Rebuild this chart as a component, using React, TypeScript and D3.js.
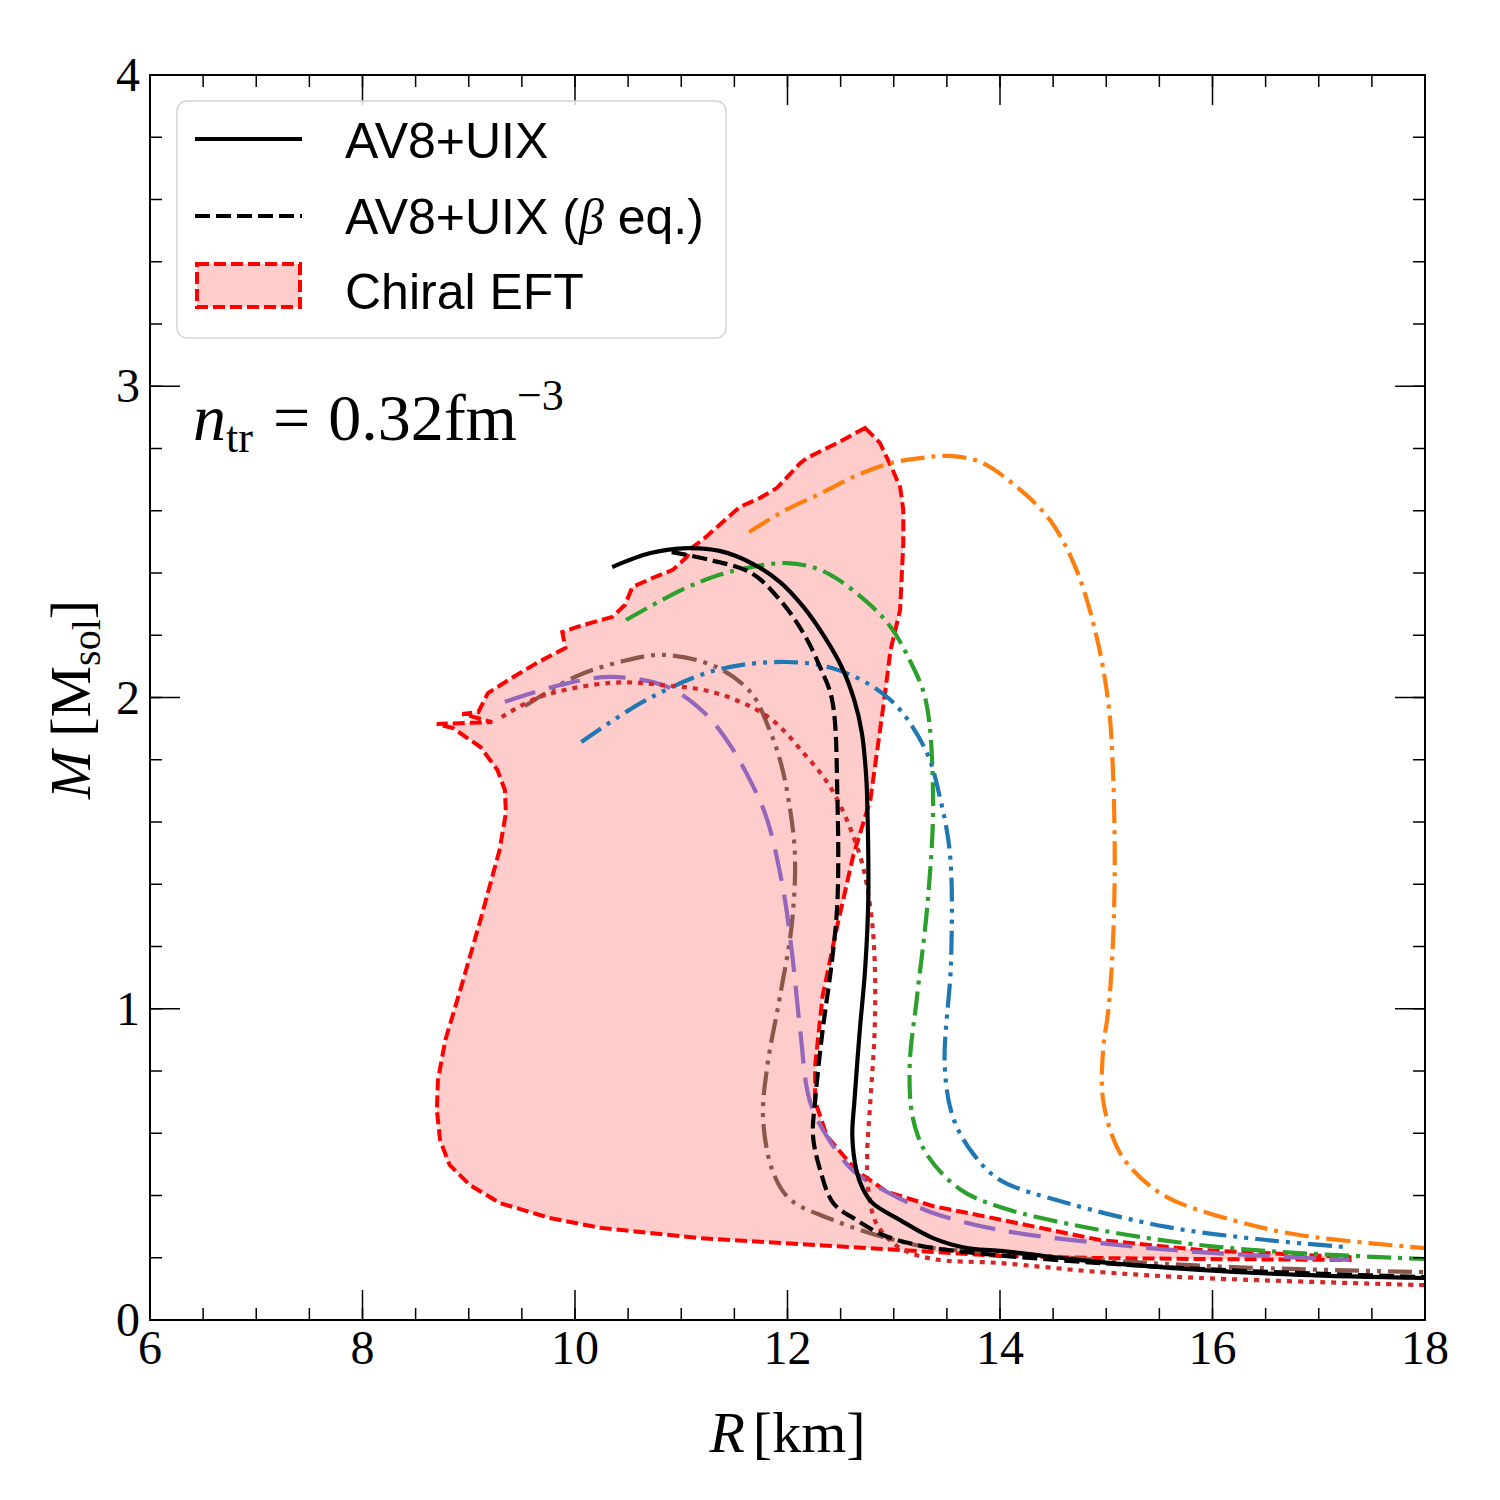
import * as d3 from 'd3';

// mass-radius curves, [R (km), M (Msol)]
const av8uix: [number, number][] = [
  [10.35, 2.419], [10.71, 2.464], [11.06, 2.48], [11.36, 2.471], [11.66, 2.432], [11.93, 2.371],
  [12.15, 2.291], [12.35, 2.194], [12.51, 2.098], [12.63, 1.99], [12.7, 1.886], [12.74, 1.75], [12.75, 1.671],
  [12.76, 1.346], [12.73, 1.124], [12.68, 0.929], [12.63, 0.704], [12.61, 0.591], [12.65, 0.479],
  [12.71, 0.421], [12.8, 0.376], [13.06, 0.321], [13.37, 0.263], [13.69, 0.231], [14.0, 0.222],
  [14.94, 0.186], [15.88, 0.161], [16.82, 0.145], [18.0, 0.135],
];

const av8uixBeta: [number, number][] = [
  [10.91, 2.467], [11.27, 2.442], [11.66, 2.4], [11.93, 2.313], [12.15, 2.207], [12.31, 2.095],
  [12.42, 1.992], [12.47, 1.671], [12.47, 1.346], [12.42, 1.157], [12.33, 0.929], [12.26, 0.704],
  [12.24, 0.591], [12.31, 0.479], [12.43, 0.376], [12.65, 0.321], [12.9, 0.273], [13.22, 0.241],
  [13.69, 0.218], [14.94, 0.183], [16.35, 0.157], [18.0, 0.138],
];

const orangeCurve: [number, number][] = [
  [11.64, 2.532], [11.98, 2.602], [12.32, 2.657], [12.64, 2.712], [12.97, 2.753], [13.25, 2.769],
  [13.5, 2.776], [13.81, 2.757], [14.16, 2.676], [14.47, 2.57], [14.72, 2.41], [14.91, 2.194],
  [15.02, 1.982], [15.06, 1.79], [15.08, 1.468], [15.06, 1.189], [15.02, 0.996], [14.97, 0.867],
  [14.97, 0.707], [15.1, 0.556], [15.25, 0.482], [15.57, 0.395], [16.19, 0.321], [16.82, 0.273],
  [18.0, 0.231],
];

const greenCurve: [number, number][] = [
  [10.48, 2.249], [11.0, 2.345], [11.36, 2.394], [11.66, 2.419], [11.99, 2.432], [12.26, 2.416],
  [12.48, 2.378], [12.78, 2.297], [12.97, 2.227], [13.15, 2.12], [13.3, 1.992], [13.37, 1.671],
  [13.32, 1.346], [13.22, 1.041], [13.15, 0.816], [13.18, 0.649], [13.31, 0.533], [13.62, 0.421],
  [14.0, 0.363], [14.94, 0.289], [15.88, 0.241], [16.82, 0.215], [18.0, 0.196],
];

const blueCurve: [number, number][] = [
  [10.06, 1.857], [10.67, 1.992], [11.33, 2.088], [11.99, 2.114], [12.48, 2.088], [12.97, 1.992],
  [13.3, 1.831], [13.44, 1.671], [13.53, 1.494], [13.54, 1.157], [13.48, 0.816], [13.56, 0.649],
  [13.75, 0.533], [14.0, 0.45], [14.63, 0.376], [15.57, 0.299], [16.51, 0.257], [17.23, 0.235],
];

const brownCurve: [number, number][] = [
  [9.53, 1.973], [10.0, 2.066], [10.42, 2.114], [10.83, 2.137], [11.33, 2.098], [11.66, 2.014],
  [11.82, 1.905], [11.93, 1.799], [12.01, 1.671], [12.07, 1.494], [12.04, 1.269], [11.93, 1.041],
  [11.81, 0.816], [11.77, 0.649], [11.86, 0.479], [12.02, 0.389], [12.43, 0.321], [12.9, 0.267],
  [13.37, 0.231], [14.0, 0.218], [14.94, 0.193], [16.19, 0.17], [18.0, 0.154],
];

const purpleCurve: [number, number][] = [
  [9.34, 1.986], [9.86, 2.04], [10.34, 2.066], [10.87, 2.034], [11.22, 1.95], [11.46, 1.847],
  [11.68, 1.712], [11.81, 1.606], [11.96, 1.382], [12.05, 1.157], [12.12, 0.929], [12.21, 0.704],
  [12.37, 0.591], [12.62, 0.479], [12.94, 0.411], [13.37, 0.344], [14.0, 0.289], [14.94, 0.247],
  [15.88, 0.218], [17.29, 0.193],
];

const redCurve: [number, number][] = [
  [9.31, 1.937], [9.67, 2.002], [10.34, 2.047], [10.83, 2.04], [11.33, 2.014], [11.82, 1.937],
  [12.15, 1.822], [12.42, 1.703], [12.68, 1.494], [12.78, 1.324], [12.82, 1.157], [12.82, 0.929],
  [12.78, 0.704], [12.75, 0.533], [12.76, 0.421], [12.84, 0.308], [13.06, 0.231], [13.37, 0.196],
  [14.0, 0.183], [14.94, 0.154], [15.88, 0.135], [18.0, 0.112],
];

// chiral EFT envelope, closed outline
const chiralBand: [number, number][] = [
  [12.73, 2.866], [12.87, 2.818], [12.99, 2.731], [13.06, 2.676], [13.09, 2.602], [13.09, 2.496],
  [13.06, 2.281], [12.97, 2.153], [12.91, 1.992], [12.78, 1.671], [12.62, 1.494], [12.47, 1.269],
  [12.33, 1.041], [12.26, 0.816], [12.26, 0.704], [12.37, 0.591], [12.65, 0.479], [12.94, 0.411],
  [13.37, 0.366], [13.88, 0.331], [14.94, 0.257], [15.88, 0.225], [17.29, 0.202], [17.29, 0.193],
  [15.88, 0.196], [14.94, 0.199], [14.0, 0.206], [13.06, 0.225], [12.12, 0.244], [11.18, 0.263],
  [10.24, 0.296], [9.76, 0.328], [9.29, 0.376], [9.01, 0.434], [8.82, 0.498], [8.73, 0.578],
  [8.7, 0.675], [8.71, 0.771], [8.78, 0.9], [8.92, 1.06], [9.11, 1.285], [9.29, 1.51],
  [9.35, 1.629], [9.34, 1.703], [9.27, 1.767], [9.11, 1.841], [8.85, 1.902], [8.7, 1.915],
  [9.22, 1.921], [8.94, 1.947], [9.09, 1.953], [9.18, 2.014], [9.42, 2.066], [9.64, 2.111],
  [9.91, 2.159], [9.88, 2.21], [10.02, 2.227], [10.35, 2.259], [10.47, 2.297], [10.54, 2.355],
  [10.73, 2.384], [10.92, 2.41], [11.05, 2.451], [11.11, 2.484], [11.2, 2.506], [11.55, 2.612],
  [11.74, 2.641], [11.9, 2.673], [12.12, 2.753], [12.18, 2.769], [12.47, 2.818],
];

const xTicks = [6, 8, 10, 12, 14, 16, 18];
const yTicks = [0, 1, 2, 3, 4];
const xMinor = d3.range(6, 18.001, 0.5);
const yMinor = d3.range(0, 4.001, 0.2);

const W = 1500;
const H = 1500;
const left = 150, right = 1425, top = 75, bottom = 1320;
const x = d3.scaleLinear().domain([6, 18]).range([left, right]);
const y = d3.scaleLinear().domain([0, 4]).range([bottom, top]);

const smooth = d3.line<[number, number]>().x(d => x(d[0])).y(d => y(d[1])).curve(d3.curveCatmullRom.alpha(0.5));
const straight = d3.line<[number, number]>().x(d => x(d[0])).y(d => y(d[1]));

const curves = [
  { data: orangeCurve, color: '#ff7f0e', dash: '24 7 4 7' },
  { data: greenCurve, color: '#2ca02c', dash: '24 7 4 7' },
  { data: blueCurve, color: '#1f77b4', dash: '24 7 4 7 4 7' },
  { data: brownCurve, color: '#8c564b', dash: '24 7 4 7 4 7' },
  { data: purpleCurve, color: '#9467bd', dash: '32 14' },
  { data: redCurve, color: '#d62728', dash: '5 6' },
  { data: av8uixBeta, color: '#000', dash: '15 6' },
  { data: av8uix, color: '#000', dash: undefined },
];

const serif = '"Liberation Serif", "DejaVu Serif", serif';
const sans = '"Liberation Sans", "DejaVu Sans", sans-serif';

export default function App() {
  return (
    <svg width={W} height={H} style={{ position: 'absolute', left: 0, top: 0, background: '#fff' }}>
      <defs>
        <clipPath id="plot">
          <rect x={left} y={top} width={right - left} height={bottom - top} />
        </clipPath>
      </defs>

      <g clipPath="url(#plot)">
        <path d={straight(chiralBand) + 'Z'} fill="#ffcccc" stroke="#ff0000" strokeWidth={4}
          strokeDasharray="12 5" strokeLinejoin="miter" />
        {curves.map((c, i) => (
          <path key={i} d={smooth(c.data) ?? ''} fill="none" stroke={c.color} strokeWidth={4.2}
            strokeDasharray={c.dash} />
        ))}
      </g>

      {/* ticks, inward on all sides */}
      <g stroke="#000" strokeWidth={1.5}>
        {xMinor.map(v => (
          <g key={'xm' + v}>
            <line x1={x(v)} x2={x(v)} y1={bottom} y2={bottom - 12} />
            <line x1={x(v)} x2={x(v)} y1={top} y2={top + 12} />
          </g>
        ))}
        {yMinor.map(v => (
          <g key={'ym' + v}>
            <line x1={left} x2={left + 12} y1={y(v)} y2={y(v)} />
            <line x1={right} x2={right - 12} y1={y(v)} y2={y(v)} />
          </g>
        ))}
        {xTicks.map(v => (
          <g key={'xt' + v}>
            <line x1={x(v)} x2={x(v)} y1={bottom} y2={bottom - 30} />
            <line x1={x(v)} x2={x(v)} y1={top} y2={top + 30} />
          </g>
        ))}
        {yTicks.map(v => (
          <g key={'yt' + v}>
            <line x1={left} x2={left + 30} y1={y(v)} y2={y(v)} />
            <line x1={right} x2={right - 30} y1={y(v)} y2={y(v)} />
          </g>
        ))}
      </g>
      <rect x={left} y={top} width={right - left} height={bottom - top} fill="none" stroke="#000" strokeWidth={2} />

      <g fontFamily={serif} fontSize={48}>
        {xTicks.map(v => (
          <text key={'xl' + v} x={x(v)} y={bottom + 44} textAnchor="middle">{v}</text>
        ))}
        {yTicks.map(v => (
          <text key={'yl' + v} x={left - 10} y={y(v) + 16} textAnchor="end">{v}</text>
        ))}
      </g>

      {/* axis titles */}
      <text x={x(12)} y={1452} textAnchor="middle" fontFamily={serif} fontSize={58}>
        <tspan fontStyle="italic">R</tspan>
        <tspan dx={8}>[km]</tspan>
      </text>
      <text transform={`translate(90,${y(2) + 2}) rotate(-90)`} textAnchor="middle" fontFamily={serif} fontSize={58}>
        <tspan fontStyle="italic">M</tspan>
        <tspan dx={14}>[M</tspan>
        <tspan fontSize={40} dy={10}>sol</tspan>
        <tspan dy={-10}>]</tspan>
      </text>

      {/* transition density */}
      <text x={193} y={440} fontFamily={serif} fontSize={66}>
        <tspan fontStyle="italic">n</tspan>
        <tspan fontSize={44} dy={12}>tr</tspan>
        <tspan dy={-12} dx={20}>=</tspan>
        <tspan dx={18}>0.32fm</tspan>
        <tspan fontSize={44} dy={-30}>−3</tspan>
      </text>

      {/* legend */}
      <g>
        <rect x={177} y={101} width={549} height={237} rx={10} fill="#fff" fillOpacity={0.8} stroke="#d4d4d4" strokeWidth={1.5} />
        <line x1={195} x2={302} y1={139} y2={139} stroke="#000" strokeWidth={4} />
        <line x1={195} x2={302} y1={216} y2={216} stroke="#000" strokeWidth={4} strokeDasharray="15 6" />
        <rect x={197} y={264} width={103} height={43} fill="#ffcccc" stroke="#ff0000" strokeWidth={4} strokeDasharray="12 5" />
        <g fontFamily={sans} fontSize={50}>
          <text x={345} y={158}>AV8+UIX</text>
          <text x={345} y={234}>
            AV8+UIX (<tspan fontFamily={serif} fontStyle="italic">β</tspan> eq.)
          </text>
          <text x={345} y={309}>Chiral EFT</text>
        </g>
      </g>
    </svg>
  );
}
